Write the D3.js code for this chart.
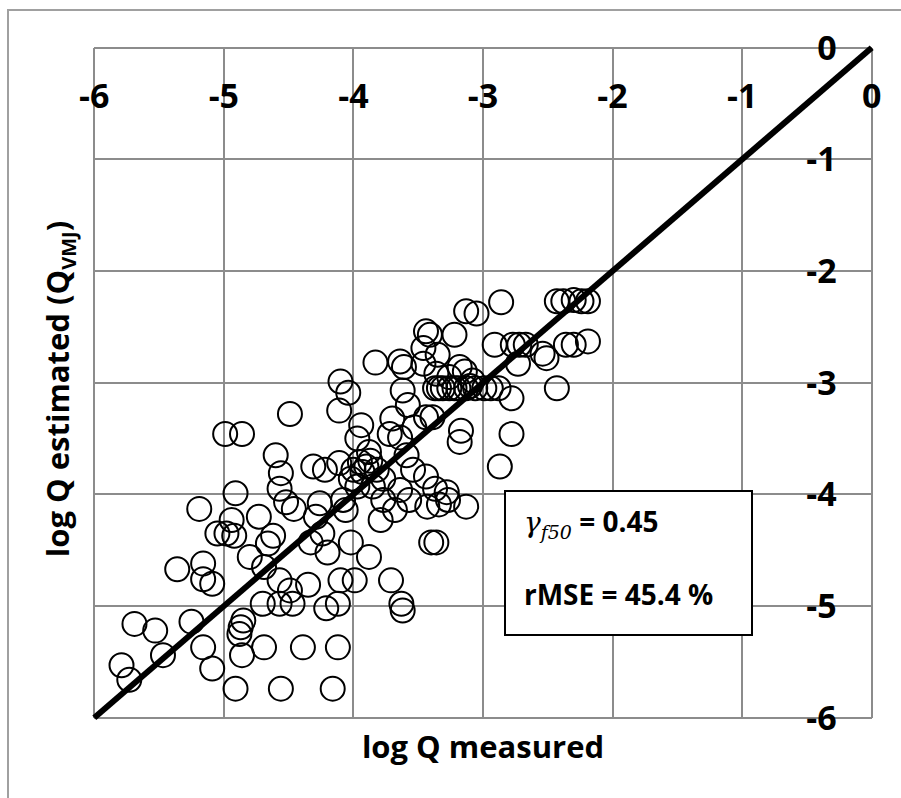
<!DOCTYPE html>
<html>
<head>
<meta charset="utf-8">
<script src="https://cdn.jsdelivr.net/npm/d3@7"></script>
<style>
  body { margin: 0; background: #ffffff; }
  svg { display: block; }
  .tick-label { font-family: "Open Sans", sans-serif; font-weight: bold; font-size: 34px; fill: #000; }
  .axis-title { font-family: "Open Sans", sans-serif; font-weight: bold; font-size: 31px; fill: #000; }
  .box-text { font-family: "Open Sans", sans-serif; font-weight: bold; font-size: 28px; fill: #000; }
</style>
</head>
<body>
<svg id="chart"></svg>
<script>
/**
 * Chart values
 */
var xTicks = [-6, -5, -4, -3, -2, -1, 0];
var yTicks = [0, -1, -2, -3, -4, -5, -6];

// log Q measured
var measured = [
  -3.13, -3.05, -3.44, -3.41, -3.22, -3.46, -3.35, -3.83, -3.64, -3.61,
  -3.46, -3.18, -3.36, -3.26, -3.14, -3.08, -3.37, -3.31, -3.26, -3.19,
  -3.13, -3.06, -3.34, -3.22, -3.10, -4.10, -4.04, -4.11, -3.62, -3.58,
  -3.70, -3.44, -3.39, -3.53, -3.94, -3.72, -3.97, -3.64, -3.17, -3.18,
  -3.88, -3.59, -4.60, -4.56, -4.31, -4.22, -4.11, -3.95, -3.90, -3.82,
  -3.77, -4.02, -3.97, -3.85, -3.54, -3.44, -3.37, -3.28, -3.13, -4.57,
  -4.52, -4.46, -4.91, -5.19, -4.73, -4.26, -4.29, -4.08, -4.06, -3.77,
  -3.68, -3.57, -3.43, -3.64, -3.34, -4.99, -4.86, -4.49, -3.93, -3.87,
  -4.00, -2.86, -2.43, -2.38, -2.30, -2.24, -2.19, -2.19, -2.36, -2.30,
  -2.91, -2.77, -2.72, -2.67, -2.54, -2.51, -2.73, -2.43, -2.99, -2.94,
  -2.88, -2.78, -2.78, -2.87, -4.94, -5.05, -4.98, -4.92, -4.62, -4.66,
  -4.80, -4.69, -4.24, -4.33, -4.20, -4.02, -3.88, -3.79, -3.27, -3.40,
  -3.36, -3.71, -3.63, -3.62, -4.10, -3.99, -4.35, -4.57, -4.49, -4.70,
  -4.57, -4.47, -4.21, -4.12, -5.36, -5.16, -5.16, -5.09, -5.69, -5.53,
  -5.25, -5.47, -5.16, -5.09, -5.79, -5.73, -4.85, -4.87, -4.88, -4.86,
  -4.69, -4.39, -4.12, -4.91, -4.56, -4.16
];

// log Q estimated (Q_VMJ)
var estimated = [
  -2.36, -2.38, -2.54, -2.57, -2.57, -2.69, -2.75, -2.82, -2.81, -2.86,
  -2.83, -2.86, -2.92, -2.95, -2.90, -2.98, -3.05, -3.05, -3.05, -3.05,
  -3.05, -3.05, -3.05, -3.05, -3.03, -2.99, -3.09, -3.25, -3.07, -3.20,
  -3.32, -3.31, -3.31, -3.40, -3.38, -3.46, -3.50, -3.49, -3.43, -3.53,
  -3.62, -3.65, -3.65, -3.81, -3.75, -3.78, -3.72, -3.71, -3.75, -3.78,
  -3.86, -3.86, -3.93, -3.93, -3.78, -3.84, -3.95, -3.98, -4.11, -3.95,
  -4.07, -4.13, -3.99, -4.13, -4.20, -4.08, -4.20, -4.05, -4.14, -4.05,
  -4.14, -4.05, -4.11, -3.96, -4.09, -3.46, -3.46, -3.28, -3.80, -3.70,
  -3.78, -2.28, -2.27, -2.27, -2.26, -2.27, -2.27, -2.63, -2.66, -2.66,
  -2.66, -2.66, -2.66, -2.66, -2.74, -2.78, -2.83, -3.05, -3.05, -3.05,
  -3.05, -3.14, -3.46, -3.75, -4.23, -4.35, -4.35, -4.37, -4.37, -4.44,
  -4.56, -4.65, -4.35, -4.43, -4.52, -4.43, -4.56, -4.23, -4.05, -4.43,
  -4.43, -4.77, -4.98, -5.04, -4.77, -4.77, -4.81, -4.77, -4.86, -4.98,
  -4.98, -4.98, -5.02, -4.98, -4.67, -4.62, -4.76, -4.80, -5.16, -5.22,
  -5.14, -5.44, -5.37, -5.56, -5.53, -5.66, -5.13, -5.19, -5.25, -5.44,
  -5.37, -5.37, -5.37, -5.74, -5.74, -5.74
];

// 1:1 line end points
var lineX = [-6, 0];
var lineY = [-6, 0];

var gammaValue = "0.45";
var rmseValue = "45.4 %";

window.onload = function(){
    drawChart();
};

function drawChart() {
    var width = 901, height = 798;
    var plot = {left: 94.3, right: 871.7, top: 47.7, bottom: 717.7};

    var svg = d3.select("#chart")
        .attr("width", width)
        .attr("height", height);

    // outer chart frame (only top and left edges show)
    svg.append("rect")
        .attr("x", 8)
        .attr("y", 10)
        .attr("width", 1000)
        .attr("height", 1000)
        .style("fill", "none")
        .style("stroke", "#a0a0a0")
        .style("stroke-width", 2);

    var x = d3.scaleLinear().domain([-6, 0]).range([plot.left, plot.right]);
    var y = d3.scaleLinear().domain([-6, 0]).range([plot.bottom, plot.top]);

    // gridlines
    var grid = svg.append("g");
    grid.selectAll("line.v")
        .data(xTicks)
        .enter()
        .append("line")
        .attr("class", "v")
        .attr("x1", function(d){ return x(d); })
        .attr("x2", function(d){ return x(d); })
        .attr("y1", y(-6))
        .attr("y2", y(0));
    grid.selectAll("line.h")
        .data(yTicks)
        .enter()
        .append("line")
        .attr("class", "h")
        .attr("x1", x(-6))
        .attr("x2", x(0))
        .attr("y1", function(d){ return y(d); })
        .attr("y2", function(d){ return y(d); });
    grid.selectAll("line")
        .style("stroke", "#8c8c8c")
        .style("stroke-width", 2)
        .attr("shape-rendering", "crispEdges");

    // points
    var pts = d3.range(measured.length);
    svg.append("g")
        .selectAll("circle")
        .data(pts)
        .enter()
        .append("circle")
        .attr("cx", function(i){ return x(measured[i]); })
        .attr("cy", function(i){ return y(estimated[i]); })
        .attr("r", 12)
        .style("fill", "none")
        .style("stroke", "#000")
        .style("stroke-width", 2);

    // 1:1 line
    svg.append("line")
        .attr("x1", x(lineX[0]))
        .attr("y1", y(lineY[0]))
        .attr("x2", x(lineX[1]))
        .attr("y2", y(lineY[1]))
        .style("stroke", "#000")
        .style("stroke-width", 6);

    // x tick labels (axis crosses at the top)
    svg.append("g")
        .selectAll("text")
        .data(xTicks)
        .enter()
        .append("text")
        .attr("class", "tick-label")
        .attr("x", function(d){ return x(d); })
        .attr("y", y(0) + 60)
        .attr("text-anchor", "middle")
        .text(function(d){ return d === 0 ? "0" : "-" + Math.abs(d); });

    // y tick labels (axis crosses at the right)
    svg.append("g")
        .selectAll("text")
        .data(yTicks)
        .enter()
        .append("text")
        .attr("class", "tick-label")
        .attr("x", x(0) - 35)
        .attr("y", function(d){ return y(d) + 12; })
        .attr("text-anchor", "end")
        .text(function(d){ return d === 0 ? "0" : "-" + Math.abs(d); });

    // axis titles
    svg.append("text")
        .attr("class", "axis-title")
        .attr("x", (plot.left + plot.right) / 2)
        .attr("y", 758)
        .attr("text-anchor", "middle")
        .text("log Q measured");

    var yt = svg.append("text")
        .attr("class", "axis-title")
        .attr("text-anchor", "middle")
        .attr("transform", "translate(69," + 389 + ") rotate(-90)");
    yt.append("tspan").text("log Q estimated (Q");
    yt.append("tspan").attr("dy", 7).style("font-size", "20px").text("VMJ");
    yt.append("tspan").attr("dy", -7).text(")");

    // stats box
    var box = svg.append("g");
    box.append("rect")
        .attr("x", 505)
        .attr("y", 491)
        .attr("width", 247)
        .attr("height", 144)
        .style("fill", "#fff")
        .style("stroke", "#000")
        .style("stroke-width", 2);

    var t1 = box.append("text")
        .attr("class", "box-text")
        .attr("x", 524)
        .attr("y", 532);
    t1.append("tspan")
        .style("font-family", "'DejaVu Serif', serif")
        .style("font-style", "italic")
        .style("font-weight", "normal")
        .style("font-size", "28px")
        .text("\u03B3");
    t1.append("tspan")
        .attr("dy", 7)
        .style("font-family", "'DejaVu Serif', serif")
        .style("font-style", "italic")
        .style("font-weight", "normal")
        .style("font-size", "19px")
        .text("f50");
    t1.append("tspan")
        .attr("dy", -7)
        .text(" = " + gammaValue);

    box.append("text")
        .attr("class", "box-text")
        .attr("x", 524)
        .attr("y", 605)
        .text("rMSE = " + rmseValue);
}
</script>
</body>
</html>
